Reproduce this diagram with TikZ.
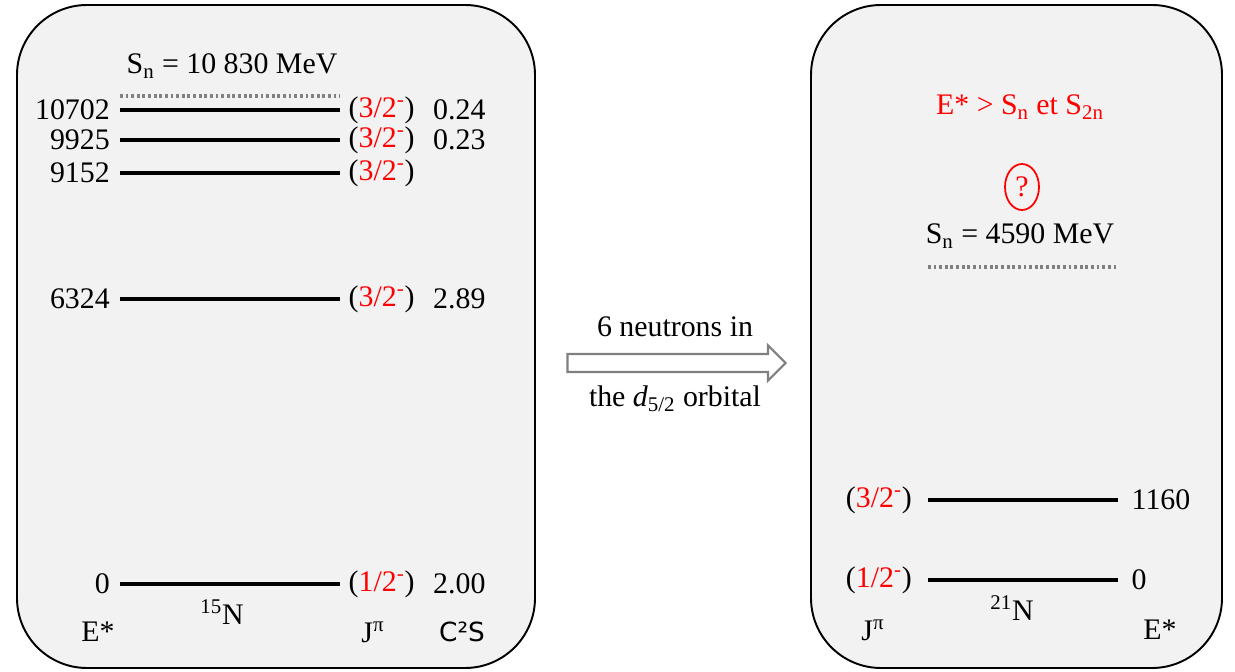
\documentclass[tikz,border=0pt]{standalone}
\usepackage{fontspec}
\setmainfont{Liberation Serif}
\newfontfamily\csfont{DejaVu Sans}
\usetikzlibrary{positioning,shapes.geometric,shapes.arrows}
\definecolor{panelgray}{RGB}{242,242,242}
\newcommand{\jpi}[1]{(\textcolor{red}{#1\textsuperscript{-}})}

\begin{document}
\begin{tikzpicture}[x=0.02cm,y=-0.02cm,font=\fontsize{17}{20}\selectfont,
  panel/.style={draw=black,line width=1.1pt,fill=panelgray,rounded corners=1.4cm},
  level/.style={line width=2pt},
  snline/.style={gray,line width=2pt,dash pattern=on 1.6pt off 1.6pt}]
  \useasboundingbox (0,0) rectangle (1235,672);
  \draw[panel] (17,5) rectangle (535,668);
  \draw[panel] (811,5) rectangle (1222,668);

  % 15N levels
  \node (snl) at (232,66) {S\textsubscript{n} = 10 830 MeV};
  \coordinate (snlA) at (120,96); \coordinate (snlB) at (340,96);
  \draw[snline] (snlA) -- (snlB);
  \foreach \n/\y/\e/\j/\c in {a/110/10702/3\slash2/0.24, b/140/9925/3\slash2/0.23,
                              c/173/9152/3\slash2/{}, d/299/6324/3\slash2/2.89,
                              e/584/0/1\slash2/2.00} {
    \coordinate (L\n) at (120,\y); \coordinate (R\n) at (340,\y);
    \draw[level] (L\n) -- (R\n);
    \node[left=0.08cm of L\n] (E\n) {\e};
    \node[right=0.05cm of R\n] (J\n) {\jpi{\j}};
    \node[anchor=west] (C\n) at (427,\y) {\c};
  }
  \node (nA) at (222,612) {\textsuperscript{15}N};
  \node (eA) at (98,632) {E*};
  \node (jA) at (373,632) {J\textsuperscript{π}};
  \node (cA) at (462,632) {\csfont\fontsize{15}{18}\selectfont C²S};

  % arrow
  \node[single arrow,draw=gray,line width=1.2pt,fill=white,inner xsep=0pt,inner ysep=0.16cm,
        single arrow head extend=0.17cm,minimum height=4.36cm] (arr) at (672,363) {};
  \node (up) at (675,327) {6 neutrons in};
  \node (dn) at (675,399) {the \textit{d}\textsubscript{5/2} orbital};

  % 21N levels
  \node[red] (cond) at (1020,107) {E* > S\textsubscript{n} et S\textsubscript{2n}};
  \node[draw=red,ellipse,line width=1pt,text=red,minimum width=0.68cm,minimum height=0.92cm,
        inner sep=0pt] (qm) at (1022,187) {?};
  \node (snr) at (1020,236) {S\textsubscript{n} = 4590 MeV};
  \coordinate (snrA) at (928,267); \coordinate (snrB) at (1116,267);
  \draw[snline] (snrA) -- (snrB);
  \foreach \n/\y/\e/\j in {f/500/1160/3\slash2, g/580/0/1\slash2} {
    \coordinate (L\n) at (928,\y); \coordinate (R\n) at (1118,\y);
    \draw[level] (L\n) -- (R\n);
    \node[left=0.2cm of L\n] (J\n) {\jpi{\j}};
    \node[right=0.15cm of R\n] (E\n) {\e};
  }
  \node (nB) at (1012,608) {\textsuperscript{21}N};
  \node (jB) at (873,630) {J\textsuperscript{π}};
  \node (eB) at (1160,630) {E*};
\end{tikzpicture}
\end{document}
